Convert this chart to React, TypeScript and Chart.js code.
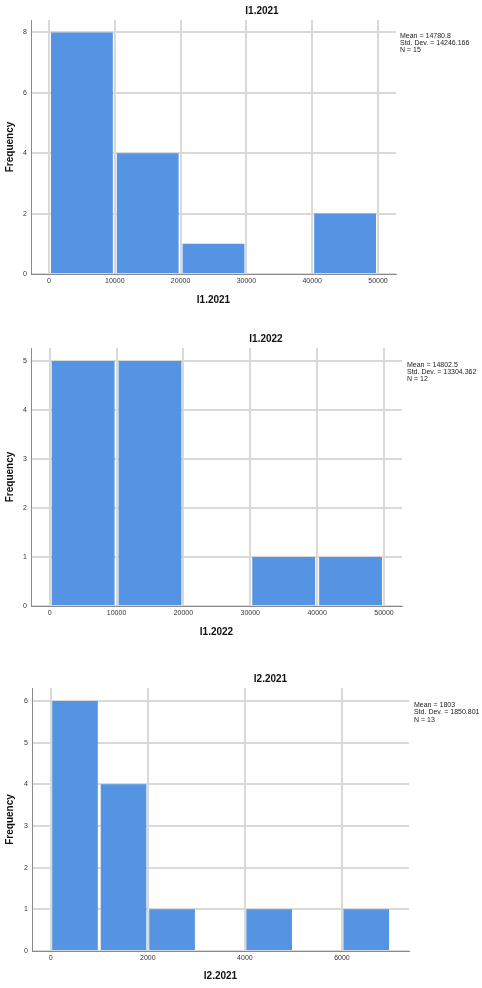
import React, { useEffect, useRef } from "react";
import { Chart, registerables } from "chart.js";

Chart.register(...registerables);

const FONT = "'Liberation Sans', Arial, sans-serif";

// ---- Data ----
const i12021BinCenters = [5000, 15000, 25000, 35000, 45000];
const i12021Counts = [8, 4, 1, 0, 2];
const i12021Stats = ["Mean = 14780.8", "Std. Dev. = 14246.166", "N = 15"];
const i12021XTicks = [0, 10000, 20000, 30000, 40000, 50000];
const i12021YTicks = [0, 2, 4, 6, 8];

const i12022BinCenters = [5000, 15000, 25000, 35000, 45000];
const i12022Counts = [5, 5, 0, 1, 1];
const i12022Stats = ["Mean = 14802.5", "Std. Dev. = 13304.362", "N = 12"];
const i12022XTicks = [0, 10000, 20000, 30000, 40000, 50000];
const i12022YTicks = [0, 1, 2, 3, 4, 5];

const i22021BinCenters = [500, 1500, 2500, 3500, 4500, 5500, 6500];
const i22021Counts = [6, 4, 1, 0, 1, 0, 1];
const i22021Stats = ["Mean = 1803", "Std. Dev. = 1850.801", "N = 13"];
const i22021XTicks = [0, 2000, 4000, 6000];
const i22021YTicks = [0, 1, 2, 3, 4, 5, 6];

type Cfg = {
  title: string;
  centers: number[];
  counts: number[];
  stats: string[];
  xTicks: number[];
  yTicks: number[];
  xMin: number;
  xMax: number;
  yMax: number;
  top: number;
  height: number;
  plotLeft: number;
  plotRight: number;
  plotTop: number;
  plotBottom: number;
  titleX: number;
  titleY: number;
  statsX: number;
  statsY: number;
  xTitlePad: number;
};

const charts: Cfg[] = [
  {
    title: "I1.2021", centers: i12021BinCenters, counts: i12021Counts, stats: i12021Stats,
    xTicks: i12021XTicks, yTicks: i12021YTicks,
    xMin: -2736, xMax: 52736, yMax: 8.41,
    top: 0, height: 320, plotLeft: 31, plotRight: 396, plotTop: 20, plotBottom: 274,
    titleX: 262, titleY: 11, statsX: 400, statsY: 36, xTitlePad: 14,
  },
  {
    title: "I1.2022", centers: i12022BinCenters, counts: i12022Counts, stats: i12022Stats,
    xTicks: i12022XTicks, yTicks: i12022YTicks,
    xMin: -2799, xMax: 52695, yMax: 5.265,
    top: 320, height: 340, plotLeft: 31, plotRight: 402, plotTop: 28, plotBottom: 286,
    titleX: 266, titleY: 19, statsX: 407, statsY: 44.7, xTitlePad: 21.7,
  },
  {
    title: "I2.2021", centers: i22021BinCenters, counts: i22021Counts, stats: i22021Stats,
    xTicks: i22021XTicks, yTicks: i22021YTicks,
    xMin: -386, xMax: 7381, yMax: 6.31,
    top: 660, height: 328, plotLeft: 32, plotRight: 409, plotTop: 28, plotBottom: 291,
    titleX: 270.5, titleY: 19, statsX: 414, statsY: 45.3, xTitlePad: 5.3,
  },
];

function Histogram({ cfg }: { cfg: Cfg }) {
  const ref = useRef<HTMLCanvasElement | null>(null);
  useEffect(() => {
    if (!ref.current) return;
    const W = 482;
    const textPlugin = {
      id: "spssText",
      afterDraw(chart: any) {
        const ctx = chart.ctx;
        ctx.save();
        ctx.fillStyle = "#111";
        ctx.textAlign = "center";
        ctx.textBaseline = "middle";
        ctx.font = `bold 10px ${FONT}`;
        ctx.fillText(cfg.title, cfg.titleX, cfg.titleY);
        ctx.font = `7px ${FONT}`;
        ctx.textAlign = "left";
        ctx.fillStyle = "#222";
        cfg.stats.forEach((s, i) => ctx.fillText(s, cfg.statsX, cfg.statsY + i * 7.2));
        ctx.restore();
      },
    };
    const chart = new Chart(ref.current, {
      type: "bar",
      data: {
        datasets: [
          {
            data: cfg.centers.map((c, i) => ({ x: c, y: cfg.counts[i] })),
            backgroundColor: "#5594e2",
            borderWidth: 0,
            barPercentage: 0.94,
            categoryPercentage: 1,
          },
        ],
      },
      options: {
        animation: false,
        responsive: false,
        maintainAspectRatio: false,
        devicePixelRatio: 1,
        layout: {
          padding: { top: cfg.plotTop, right: W - cfg.plotRight, left: 0, bottom: 0 },
        },
        plugins: { legend: { display: false }, tooltip: { enabled: false }, title: { display: false } },
        scales: {
          x: {
            type: "linear",
            offset: false,
            min: cfg.xMin,
            max: cfg.xMax,
            grid: { offset: false, color: "#d9d9d9", lineWidth: 2, drawTicks: false },
            border: { color: "#8a8a8a", width: 1 },
            afterBuildTicks: (s: any) => {
              s.ticks = cfg.xTicks.map((v) => ({ value: v }));
            },
            ticks: {
              padding: 3,
              color: "#333",
              font: { family: FONT, size: 7 },
              maxRotation: 0,
              autoSkip: false,
              callback: (v: any) => String(v),
            },
            title: {
              display: true,
              text: cfg.title,
              color: "#111",
              font: { family: FONT, size: 10, weight: "bold" },
              padding: { top: 0, bottom: cfg.xTitlePad },
            },
            afterFit: (s: any) => {
              s.height = cfg.height - cfg.plotBottom;
              s.paddingLeft = 0;
              s.paddingRight = 0;
            },
          } as any,
          y: {
            type: "linear",
            min: 0,
            max: cfg.yMax,
            grid: { color: "#d9d9d9", lineWidth: 2, drawTicks: false },
            border: { color: "#8a8a8a", width: 1 },
            afterBuildTicks: (s: any) => {
              s.ticks = cfg.yTicks.map((v) => ({ value: v }));
            },
            ticks: {
              padding: 4,
              color: "#333",
              font: { family: FONT, size: 7 },
              autoSkip: false,
              callback: (v: any) => String(v),
            },
            title: {
              display: true,
              text: "Frequency",
              color: "#111",
              font: { family: FONT, size: 10, weight: "bold" },
              padding: { top: 4, bottom: 0 },
            },
            afterFit: (s: any) => {
              s.width = cfg.plotLeft;
              s.paddingTop = 0;
              s.paddingBottom = 0;
            },
          } as any,
        },
      },
      plugins: [textPlugin],
    });
    return () => chart.destroy();
  }, [cfg]);
  return (
    <canvas
      ref={ref}
      width={482}
      height={cfg.height}
      style={{ position: "absolute", left: 0, top: cfg.top, width: 482, height: cfg.height }}
    />
  );
}

export default function App() {
  return (
    <div style={{ position: "absolute", left: 0, top: 0, width: 482, height: 988, background: "#fff" }}>
      {charts.map((c) => (
        <Histogram key={c.title} cfg={c} />
      ))}
    </div>
  );
}
